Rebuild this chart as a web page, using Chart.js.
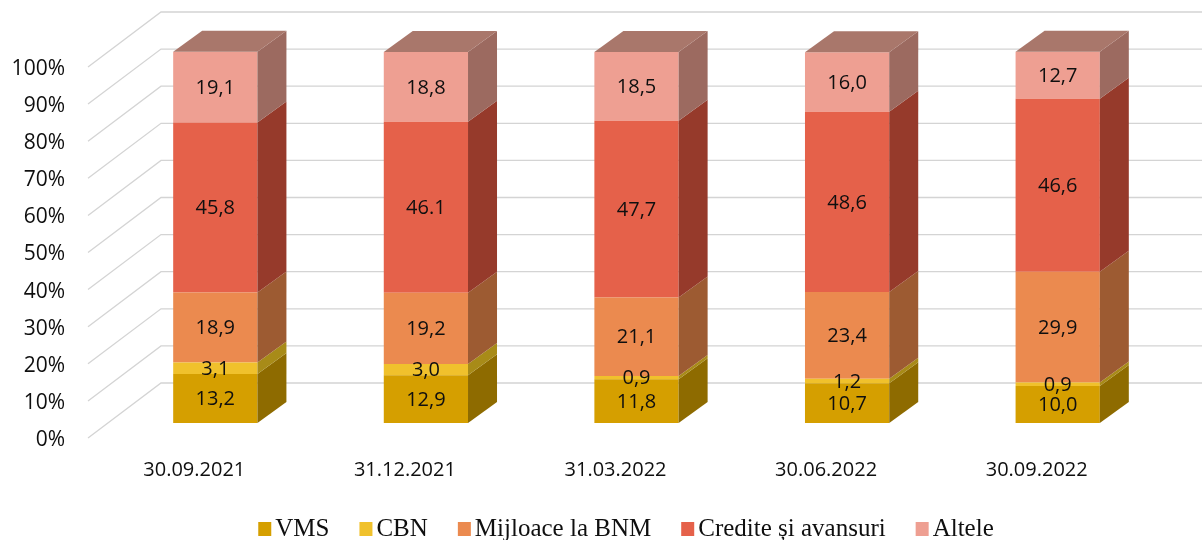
<!DOCTYPE html>
<html>
<head>
<meta charset="utf-8">
<script src="https://cdn.jsdelivr.net/npm/chart.js@4.4.1/dist/chart.umd.min.js"></script>
<style>
  html, body { margin: 0; padding: 0; background: #ffffff; }
  #wrap { width: 1202px; height: 540px; }
</style>
</head>
<body>
<div id="wrap"><canvas id="c" width="1202" height="540"></canvas></div>
<script>
// ---- data ----
const categories = ['30.09.2021', '31.12.2021', '31.03.2022', '30.06.2022', '30.09.2022'];
const seriesNames = ['VMS', 'CBN', 'Mijloace la BNM', 'Credite și avansuri', 'Altele'];
const vms      = [13.2, 12.9, 11.8, 10.7, 10.0];
const cbn      = [3.1, 3.0, 0.9, 1.2, 0.9];
const mijloace = [18.9, 19.2, 21.1, 23.4, 29.9];
const credite  = [45.8, 46.1, 47.7, 48.6, 46.6];
const altele   = [19.1, 18.8, 18.5, 16.0, 12.7];
const crediteDecimalSep = [',', '.', ',', ',', ','];
const yTicks = [0, 10, 20, 30, 40, 50, 60, 70, 80, 90, 100];

// ---- styles ----
const frontColors = ['#D59F00', '#F0C12C', '#EB8A4F', '#E5614A', '#EE9F92'];
const sideColors  = ['#8E6B00', '#A88B18', '#9D5B32', '#963A2B', '#9C6A60'];
const topColor = '#A9776B';
const BAR_DX = 29, BAR_DY = -21;          // bar depth
const FRONT_DX = -22, FRONT_DY = 15;      // front edge of the floor/left wall
const BACK_DX = 51, BACK_DY = -40;        // back wall
const GRID_COLOR = '#D4D4D4';
const TEXT_COLOR = '#0F0F0F';
const SANS = '"Open Sans", sans-serif';
const SERIF = '"Liberation Serif", serif';

const seriesData = [vms, cbn, mijloace, credite, altele];

function fmt(v, sep) {
  return v.toFixed(1).replace('.', sep || ',');
}

const gridPlugin = {
  id: 'grid3d',
  beforeDatasetsDraw(chart) {
    const ctx = chart.ctx;
    const y = chart.scales.y;
    const area = chart.chartArea;
    ctx.save();
    ctx.strokeStyle = GRID_COLOR;
    ctx.lineWidth = 1.3;
    yTicks.forEach(t => {
      const py = y.getPixelForValue(t);
      ctx.beginPath();
      ctx.moveTo(area.left + FRONT_DX, py + FRONT_DY);
      ctx.lineTo(area.left + BACK_DX, py + BACK_DY);
      ctx.lineTo(chart.width, py + BACK_DY);
      ctx.stroke();
    });
    // tick labels
    ctx.fillStyle = TEXT_COLOR;
    ctx.font = '21px ' + SANS;
    ctx.textAlign = 'right';
    ctx.textBaseline = 'middle';
    yTicks.forEach(t => {
      const py = y.getPixelForValue(t);
      ctx.fillText(t + '%', area.left - 45, py + FRONT_DY + 2);
    });
    // category labels
    const x = chart.scales.x;
    ctx.textAlign = 'center';
    ctx.font = '20px ' + SANS;
    categories.forEach((c, i) => {
      const px = x.getPixelForValue(i);
      ctx.fillText(c, px + FRONT_DX + 1, area.bottom + 47);
    });
    ctx.restore();
  },
  afterDatasetsDraw(chart) {
    const ctx = chart.ctx;
    ctx.save();
    const nSets = chart.data.datasets.length;
    for (let d = 0; d < nSets; d++) {
      const meta = chart.getDatasetMeta(d);
      meta.data.forEach((el) => {
        const p = el.getProps(['x', 'y', 'base', 'width'], true);
        const right = p.x + p.width / 2;
        const left = p.x - p.width / 2;
        // side face
        ctx.fillStyle = sideColors[d];
        ctx.beginPath();
        ctx.moveTo(right, p.y);
        ctx.lineTo(right + BAR_DX, p.y + BAR_DY);
        ctx.lineTo(right + BAR_DX, p.base + BAR_DY);
        ctx.lineTo(right, p.base);
        ctx.closePath();
        ctx.fill();
        if (d === nSets - 1) {
          ctx.fillStyle = topColor;
          ctx.beginPath();
          ctx.moveTo(left, p.y);
          ctx.lineTo(left + BAR_DX, p.y + BAR_DY);
          ctx.lineTo(right + BAR_DX, p.y + BAR_DY);
          ctx.lineTo(right, p.y);
          ctx.closePath();
          ctx.fill();
        }
      });
    }
    // data labels
    ctx.fillStyle = TEXT_COLOR;
    ctx.font = '20px ' + SANS;
    ctx.textAlign = 'center';
    ctx.textBaseline = 'middle';
    for (let d = 0; d < nSets; d++) {
      const meta = chart.getDatasetMeta(d);
      meta.data.forEach((el, i) => {
        const p = el.getProps(['x', 'y', 'base'], true);
        const sep = d === 3 ? crediteDecimalSep[i] : ',';
        ctx.fillText(fmt(seriesData[d][i], sep), p.x, (p.y + p.base) / 2 + 1);
      });
    }
    ctx.restore();
  }
};

const legendPlugin = {
  id: 'legendCustom',
  afterDraw(chart) {
    const ctx = chart.ctx;
    ctx.save();
    ctx.font = '25px ' + SERIF;
    const box = 13, gapBox = 4, gapItem = 30;
    const widths = seriesNames.map(n => box + gapBox + ctx.measureText(n).width);
    const total = widths.reduce((a, b) => a + b, 0) + gapItem * (seriesNames.length - 1);
    let x = 626 - total / 2;
    const baseY = 536;
    ctx.textBaseline = 'alphabetic';
    ctx.textAlign = 'left';
    seriesNames.forEach((n, i) => {
      ctx.fillStyle = frontColors[i];
      ctx.fillRect(x, baseY - 14, box, 14);
      ctx.fillStyle = TEXT_COLOR;
      ctx.fillText(n, x + box + gapBox, baseY);
      x += widths[i] + gapItem;
    });
    ctx.restore();
  }
};

const datasets = seriesData.map((arr, i) => ({
  label: seriesNames[i],
  data: arr,
  backgroundColor: frontColors[i],
  borderWidth: 0,
  clip: false,
  categoryPercentage: 0.8,
  barPercentage: 0.5
}));

new Chart(document.getElementById('c'), {
  type: 'bar',
  data: { labels: categories, datasets },
  options: {
    responsive: false,
    animation: false,
    layout: { padding: { left: 110, right: 39, top: 52, bottom: 117 } },
    plugins: {
      legend: { display: false },
      tooltip: { enabled: false }
    },
    scales: {
      x: { stacked: true, display: false },
      y: { stacked: true, display: false, min: 0, max: 100 }
    }
  },
  plugins: [gridPlugin, legendPlugin]
});
</script>
</body>
</html>
